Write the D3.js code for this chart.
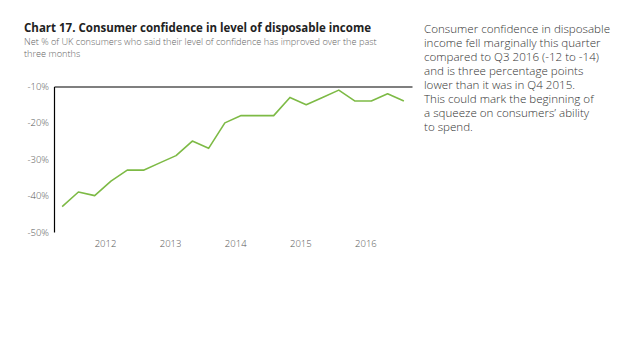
<!DOCTYPE html>
<html><head><meta charset="utf-8">
<script src="https://cdn.jsdelivr.net/npm/d3@7"></script>
<style>body{margin:0;background:#fff;} svg{display:block;}</style>
</head><body>
<script>
const quarters = ["Q3 2011","Q4 2011","Q1 2012","Q2 2012","Q3 2012","Q4 2012","Q1 2013","Q2 2013","Q3 2013","Q4 2013","Q1 2014","Q2 2014","Q3 2014","Q4 2014","Q1 2015","Q2 2015","Q3 2015","Q4 2015","Q1 2016","Q2 2016","Q3 2016","Q4 2016"];
const values = [-43,-39,-40,-36,-33,-33,-31,-29,-25,-27,-20,-18,-18,-18,-13,-15,-13,-11,-14,-14,-12,-14];
const yTicks = [-10,-20,-30,-40,-50];
const yearLabels = ["2012","2013","2014","2015","2016"];
const title = "Chart 17. Consumer confidence in level of disposable income";
const subtitle = ["Net % of UK consumers who said their level of confidence has improved over the past","three months"];
const note = ["Consumer confidence in disposable","income fell marginally this quarter","compared to Q3 2016 (-12 to -14)","and is three percentage points","lower than it was in Q4 2015.","This could mark the beginning of","a squeeze on consumers\u2019 ability","to spend."];

const W=638,H=359;
const svg=d3.select("body").append("svg").attr("width",W).attr("height",H);
const font="'Open Sans', sans-serif";

svg.append("text").attr("x",24).attr("y",32).attr("font-family",font).attr("font-weight",700)
  .attr("font-size",11.5).attr("fill","#222").text(title);
subtitle.forEach((s,i)=>svg.append("text").attr("x",24).attr("y",45+i*12).attr("font-family",font)
  .attr("font-weight",300).attr("font-size",9.2).attr("fill","#666").text(s));
note.forEach((s,i)=>svg.append("text").attr("x",424).attr("y",33+i*14).attr("font-family",font)
  .attr("font-weight",300).attr("font-size",11.6).attr("fill","#333").text(s));

const x=d3.scaleBand().domain(quarters).range([54,412]);
const y=d3.scaleLinear().domain([-50,-10]).range([232,86.5]);

// y axis
const ya=svg.append("g").attr("transform","translate(54,0)")
  .call(d3.axisLeft(y).tickValues(yTicks).tickSize(0).tickPadding(5).tickFormat(d=>d+"%"));
ya.select(".domain").attr("stroke","#000").attr("stroke-width",1.2);
ya.selectAll("text").attr("font-family",font).attr("font-weight",300).attr("font-size",9.5).attr("fill","#555");

// top x axis line at -10
const xa=svg.append("g").attr("transform",`translate(0,${y(-10)})`)
  .call(d3.axisBottom(x).tickSize(0).tickFormat(""));
xa.select(".domain").attr("stroke","#000").attr("stroke-width",1.2);

// year labels
yearLabels.forEach(yr=>{
  svg.append("text").attr("x",x("Q1 "+yr)+x.bandwidth()/2).attr("y",247)
    .attr("font-family",font).attr("font-weight",300).attr("font-size",9.5).attr("fill","#555").text(yr);
});

const line=d3.line().x((d,i)=>x(quarters[i])+x.bandwidth()/2).y(d=>y(d));
svg.append("path").datum(values).attr("d",line).attr("fill","none")
  .attr("stroke","#7dba45").attr("stroke-width",1.6).attr("stroke-linejoin","round");
</script>
</body></html>
